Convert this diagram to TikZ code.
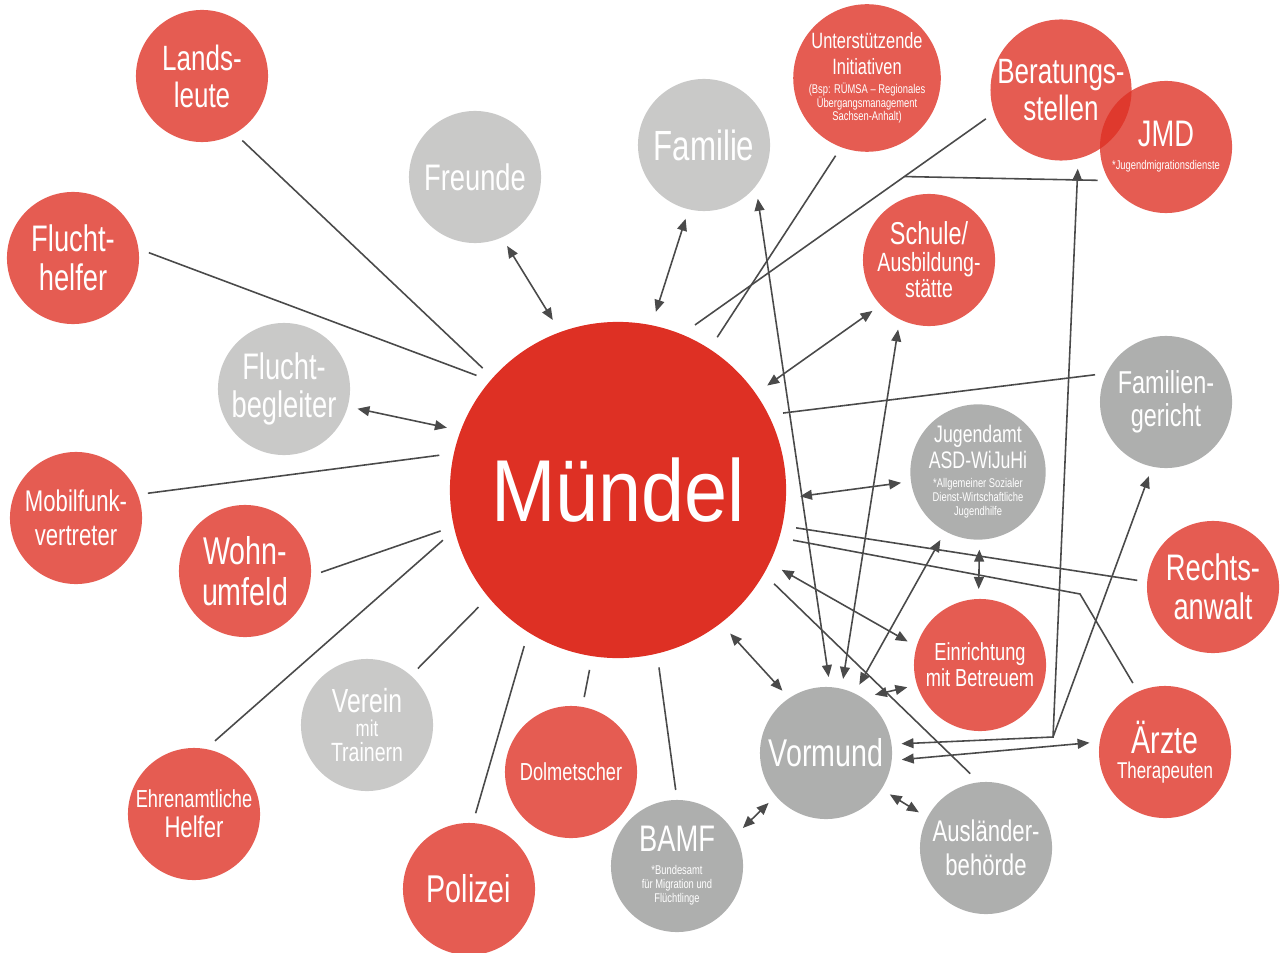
\documentclass[tikz,border=0pt]{standalone}
\usepackage{fontspec}
\setmainfont{Liberation Sans}[FakeStretch=0.74]
\newfontfamily\bigfont{Liberation Sans}[FakeStretch=0.88]
\usetikzlibrary{arrows.meta}
\definecolor{mdred}{HTML}{DE3024}
\definecolor{ltgray}{HTML}{C9C9C8}
\definecolor{dkgray}{HTML}{AEAFAE}
\definecolor{linegray}{HTML}{4A4A4A}
\newcommand{\fsz}[2]{\fontsize{#1}{#2}\selectfont}

\begin{document}
\begin{tikzpicture}[x=0.01cm, y=-0.01cm, >={Triangle[length=3.4pt, width=2.8pt]},
  bubble/.style={circle, minimum size=1.32cm, inner sep=0pt, outer sep=0.1cm, align=center, text=white},
  redbub/.style={bubble, fill=mdred, fill opacity=0.79, text opacity=1},
  graybub/.style={bubble, fill=dkgray},
  lightbub/.style={bubble, fill=ltgray},
  link/.style={draw=linegray, line width=0.45pt}]

\useasboundingbox (0,0) rectangle (1280,952);

%%% centre
\node[circle, fill=mdred, minimum size=3.36cm, inner sep=0pt, outer sep=0.14cm, text=white,
  font=\bigfont\fsz{25}{25}] (muendel) at (618,490) {Mündel};

%%% left side
\node[redbub, font=\fsz{10}{10.5}] (lands) at (202,76) {Lands-\\leute};
\node[redbub, font=\fsz{10.5}{11}] (fhelfer) at (73,258) {Flucht-\\helfer};
\node[lightbub, font=\fsz{10.5}{11}] (fbegl) at (284,389) {Flucht-\\begleiter};
\node[redbub, font=\fsz{8.5}{9.5}] (mobil) at (76,518) {Mobilfunk-\\vertreter};
\node[redbub, font=\fsz{11}{11.5}] (wohn) at (245,571) {Wohn-\\umfeld};
\node[redbub, font=\fsz{7}{8.5}] (ehren) at (194,814) {Ehrenamtliche\\{\fsz{8.5}{8.5}Helfer}};
\node[lightbub, font=\fsz{9.5}{7}] (verein) at (367,725) {Verein\\{\fsz{6.5}{7}mit}\\{\fsz{7.5}{8}Trainern}};

%%% top
\node[lightbub, font=\fsz{10.5}{11}] (freunde) at (475,177) {Freunde};
\node[lightbub, font=\fsz{12}{12}] (familie) at (704,145) {Familie};
\node[redbub, font=\fsz{3.6}{3.9}] (initiat) at (867,78)
  {{\fsz{6.3}{7}Unterstützende}\\[1.8pt]{\fsz{6.3}{7}Initiativen}\\[1.5pt](Bsp: RÜMSA – Regionales\\Übergangsmanagement\\Sachsen-Anhalt)};
\node[redbub, font=\fsz{10}{10.5}] (beratung) at (1061,90) {Beratungs-\\stellen};
\node[redbub, font=\fsz{3.6}{4}] (jmd) at (1166,147) {{\fsz{10.5}{11}JMD}\\[2.5pt]*Jugendmigrationsdienste};

%%% right side
\node[redbub, font=\fsz{7.5}{7.5}] (schule) at (929,260) {{\fsz{9}{9}Schule/}\\Ausbildung-\\stätte};
\node[graybub, font=\fsz{9}{9.5}] (fgericht) at (1166,402) {Familien-\\gericht};
\node[graybub, minimum size=1.28cm, font=\fsz{3.6}{4}] (jugendamt) at (978,472)
  {{\fsz{6.8}{7.5}Jugendamt}\\{\fsz{6.8}{7.5}ASD-WiJuHi}\\[1.5pt]*Allgemeiner Sozialer\\Dienst-Wirtschaftliche\\Jugendhilfe};
\node[redbub, font=\fsz{10.5}{11}] (rechts) at (1213,587) {Rechts-\\anwalt};
\node[redbub, font=\fsz{7}{7.5}] (einricht) at (980,665) {Einrichtung\\mit Betreuem};
\node[redbub, font=\fsz{6.5}{7}] (aerzte) at (1165,752) {{\fsz{11}{11}Ärzte}\\Therapeuten};

%%% bottom
\node[graybub, font=\fsz{11}{11}] (vormund) at (826,753) {Vormund};
\node[graybub, font=\fsz{8.5}{9.5}] (auslaender) at (986,848) {Ausländer-\\behörde};
\node[graybub, font=\fsz{3.6}{4}] (bamf) at (677,866) {{\fsz{10.5}{11}BAMF}\\[2.5pt]*Bundesamt\\für Migration und\\Flüchtlinge};
\node[redbub, font=\fsz{11}{11}] (polizei) at (469,889) {Polizei};
\node[redbub, font=\fsz{7}{7}] (dolm) at (571,772) {Dolmetscher};

% bend points
\coordinate (aerztebend) at (1080,594);
\coordinate (vmdfork) at (1053,737);

%%% links to the Muendel
\draw[link] (lands.-58) -- (muendel.138);
\draw[link] (fhelfer.4) -- (muendel.141);
\draw[link, <->] (fbegl.-15) -- (muendel.160);
\draw[link] (mobil.19) -- (muendel.169);
\draw[link] (wohn.-1) -- (muendel.193);
\draw[link] (ehren.74) -- (muendel.196);
\draw[link] (verein.48) -- (muendel.220);
\draw[link] (polizei.85) -- (muendel.239);
\draw[link] (dolm.80) -- (muendel.261);
\draw[link] (bamf.91) -- (muendel.283);
\draw[link, <->] (freunde.-65) -- (muendel.111);
\draw[link, <->] (familie.-104) -- (muendel.78);
\draw[link] (initiat.248) -- (muendel.57);
\draw[link] (beratung.201) -- coordinate[pos=0.28] (jmdfork) (muendel.65);
\draw[link] (jmdfork) -- (jmd.206);
\draw[link, <->] (schule.222) -- (muendel.35);
\draw[link] (muendel.25) -- (fgericht.159);
\draw[link, <->] (muendel.-2) -- (jugendamt.188);
\draw[link] (muendel.-12) -- (rechts.175);
\draw[link] (muendel.-16.5) -- (aerztebend) -- (aerzte.115);
\draw[link, <->] (muendel.-26) -- (einricht.162);
\draw[link] (muendel.-31) -- (auslaender.102);
\draw[link, <->] (muendel.-52) -- (vormund.125);

%%% links to the Vormund
\draw[link, <->] (familie.-45) -- (vormund.88);
\draw[link, <->] (schule.246) -- (vormund.77);
\draw[link, <->] (jugendamt.241) -- (vormund.64);
\draw[link, <->] (jugendamt.-89) -- (einricht.91);
\draw[link, <->] (vormund.50) -- (einricht.197);
\draw[link, <->] (vormund.7) -- (vmdfork) -- (beratung.-78);
\draw[link, ->] (vmdfork) -- (fgericht.257);
\draw[link, <->] (vormund.-5) -- (aerzte.173);
\draw[link, <->] (vormund.-33) -- (auslaender.152);
\draw[link, <->] (vormund.221) -- (bamf.30);

\end{tikzpicture}
\end{document}
